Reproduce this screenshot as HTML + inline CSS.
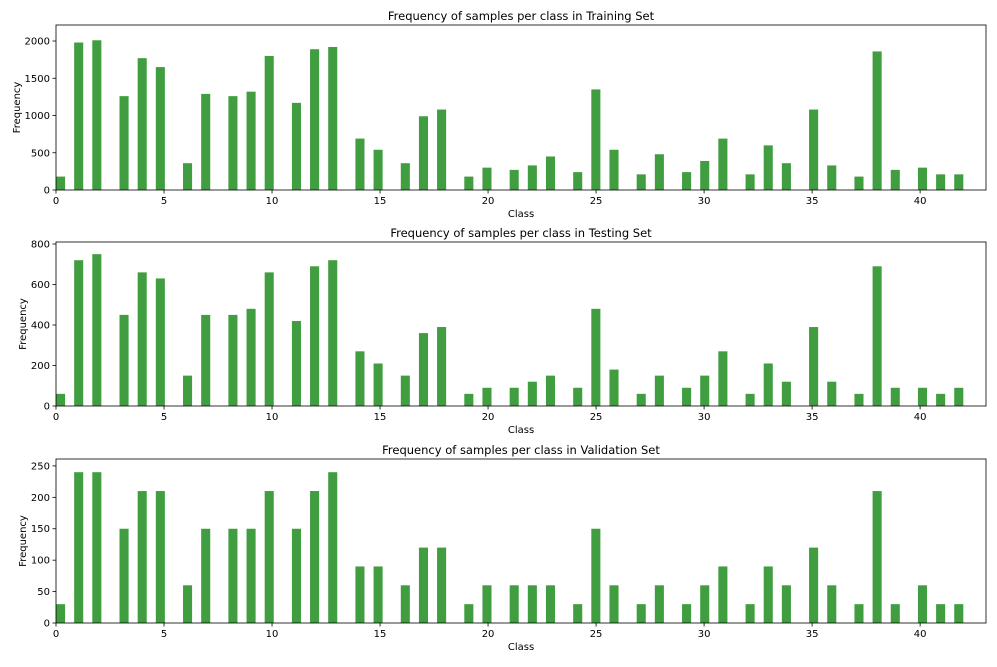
<!DOCTYPE html>
<html><head><meta charset="utf-8"><style>
body{margin:0;background:#fff;font-family:"Liberation Sans","DejaVu Sans",sans-serif;}
svg text{font-family:"DejaVu Sans","Liberation Sans",sans-serif;fill:#000;}
</style></head><body>
<svg id="chart" width="997" height="662"></svg>
<script>
const classes=[0,1,2,3,4,5,6,7,8,9,10,11,12,13,14,15,16,17,18,19,20,21,22,23,24,25,26,27,28,29,30,31,32,33,34,35,36,37,38,39,40,41,42];
const trainCounts=[180,1980,2010,1260,1770,1650,360,1290,1260,1320,1800,1170,1890,1920,690,540,360,990,1080,180,300,270,330,450,240,1350,540,210,480,240,390,690,210,599,360,1080,330,180,1860,270,300,210,210];
const testCounts=[60,720,750,450,660,630,150,450,450,480,660,420,690,720,270,210,150,360,390,60,90,90,120,150,90,480,180,60,150,90,150,270,60,210,120,390,120,60,690,90,90,60,90];
const validCounts=[30,240,240,150,210,210,60,150,150,150,210,150,210,240,90,90,60,120,120,30,60,60,60,60,30,150,60,30,60,30,60,90,30,90,60,120,60,30,210,30,60,30,30];
const xTicks=[0,5,10,15,20,25,30,35,40];
const trainTicks=[0,500,1000,1500,2000];
const testTicks=[0,200,400,600,800];
const validTicks=[0,50,100,150,200,250];
const panels=[
 {name:'training',title:'Frequency of samples per class in Training Set',data:trainCounts,ticks:trainTicks,ymax:2215,top:25,bottom:190},
 {name:'testing',title:'Frequency of samples per class in Testing Set',data:testCounts,ticks:testTicks,ymax:810,top:242,bottom:406},
 {name:'validation',title:'Frequency of samples per class in Validation Set',data:validCounts,ticks:validTicks,ymax:261,top:459,bottom:623}
];
const svg=document.getElementById('chart');
const NS='http://www.w3.org/2000/svg';
const L=56,R=986,XMAX=43.05;
const NBINS=100,BW=42/NBINS;
function xScale(v){return L+(v/XMAX)*(R-L);}
function binLeft(c){return Math.min(Math.floor(c/BW+1e-9),NBINS-1)*BW;}
function mk(tag,attrs,parent){const e=document.createElementNS(NS,tag);for(const k in attrs)e.setAttribute(k,attrs[k]);parent.appendChild(e);return e;}
panels.forEach(p=>{
 const g=mk('g',{},svg);
 
 
 const yS=v=>p.bottom-(v/p.ymax)*(p.bottom-p.top);
 classes.forEach((c,i)=>{
  const x0=binLeft(c);
  const x=xScale(x0);
  const w=xScale(x0+BW)-x;
  const y=yS(p.data[i]);
  const r=mk('rect',{x:x,y:y,width:w,height:p.bottom-y,fill:'rgb(64,158,64)'},g);
  
  
 });
 const frame=mk('rect',{x:L,y:p.top,width:R-L,height:p.bottom-p.top,fill:'none',stroke:'#000','stroke-width':0.8},g);
 
 
 xTicks.forEach(t=>{
  const x=xScale(t);
  mk('line',{x1:x,x2:x,y1:p.bottom,y2:p.bottom+3.5,stroke:'#000','stroke-width':0.8},g);
  const tx=mk('text',{x:x,y:p.bottom+14,'font-size':10,'text-anchor':'middle'},g);
  tx.textContent=t;
  
  
 });
 p.ticks.forEach(t=>{
  const y=yS(t);
  mk('line',{x1:L-3.5,x2:L,y1:y,y2:y,stroke:'#000','stroke-width':0.8},g);
  const tx=mk('text',{x:L-6,y:y+3.5,'font-size':10,'text-anchor':'end'},g);
  tx.textContent=t;
  
  
 });
 const ti=mk('text',{x:(L+R)/2,y:p.top-5,'font-size':11.5,'text-anchor':'middle'},g);
 ti.textContent=p.title;
 
 
 const xl=mk('text',{x:(L+R)/2,y:p.bottom+27,'font-size':10,'text-anchor':'middle'},g);
 xl.textContent='Class';
 
 
 const cy=(p.top+p.bottom)/2;
 const yl=mk('text',{x:0,y:0,'font-size':10,'text-anchor':'middle',transform:'translate('+(p.name==='training'?20:26)+','+cy+') rotate(-90)'},g);
 yl.textContent='Frequency';
 
 
});
</script>
</body></html>
